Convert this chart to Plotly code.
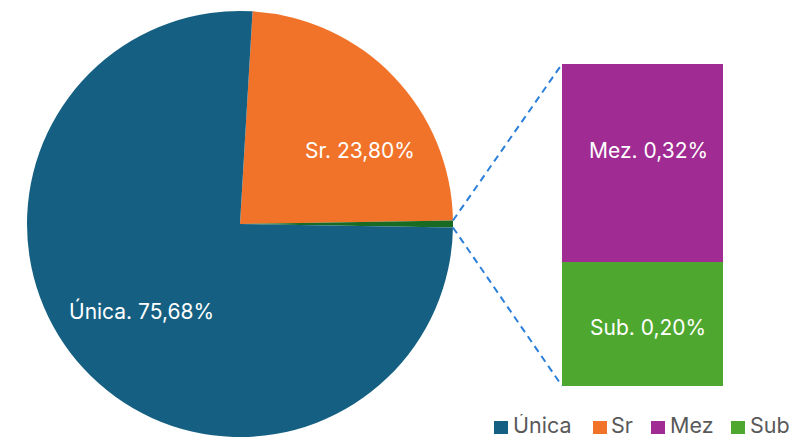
import math
import plotly.graph_objects as go

W, H = 792, 437

pie_labels = ["Sr", "Otro", "Única"]
pie_values = [23.80, 0.52, 75.68]
pie_colors = ["#F1732A", "#196B24", "#156082"]

bar_labels = ["Sub", "Mez"]
bar_values = [0.20, 0.32]
bar_colors = ["#4EA72E", "#A02B93"]

legend_labels = ["Única", "Sr", "Mez", "Sub"]
legend_colors = ["#156082", "#F1732A", "#A02B93", "#4EA72E"]

def fmt(v):
    return f"{v:.2f}".replace(".", ",") + "%"

# geometry (pixels)
cx, cy, r = 240, 224, 213
bx0, bx1, by_top, by_bot = 562, 723, 64, 386
font = "Inter"
lab_size = 21

total = sum(pie_values)
other_deg = pie_values[1] / total * 360
rotation = 90 - other_deg / 2 - pie_values[0] / total * 360

fig = go.Figure()
fig.add_trace(go.Pie(
    labels=pie_labels, values=pie_values, sort=False, direction="clockwise",
    rotation=rotation, marker=dict(colors=pie_colors, line=dict(width=0)),
    textinfo="none", hoverinfo="label+percent", showlegend=False,
    domain=dict(x=[(cx - r) / W, (cx + r) / W], y=[(H - cy - r) / H, (H - cy + r) / H]),
))

for lab, val, col in zip(bar_labels, bar_values, bar_colors):
    fig.add_trace(go.Bar(
        x=["x"], y=[val], marker=dict(color=col, line=dict(width=0)),
        textposition="none", showlegend=False, name=lab,
    ))

def px(x, y):
    return x / W, 1 - y / H

annots = []
# data labels (positions in pixels)
label_pos = {"Única": (141, 311), "Sr": (360, 150), "Mez": (648, 150), "Sub": (648, 327)}
label_vals = {pie_labels[2]: pie_values[2], pie_labels[0]: pie_values[0],
              bar_labels[1]: bar_values[1], bar_labels[0]: bar_values[0]}
for lab, val in label_vals.items():
    x, y = px(*label_pos[lab])
    annots.append(dict(x=x, y=y, xref="paper", yref="paper", showarrow=False,
                       text=f"{lab}. {fmt(val)}", xanchor="center", yanchor="middle",
                       font=dict(color="white", size=lab_size, family=font)))

# manual legend
shapes = []
sq_x = [494, 593, 651, 731]
tx_x = [512, 610, 669, 749]
leg_y = 425
sq = 13
for lab, col, sx, tx in zip(legend_labels, legend_colors, sq_x, tx_x):
    x0, y0 = px(sx, 421)
    x1, y1 = px(sx + sq + 1, 434)
    shapes.append(dict(type="rect", xref="paper", yref="paper", x0=x0, y0=y0, x1=x1, y1=y1,
                       fillcolor=col, line=dict(width=0)))
    x, y = px(tx, leg_y)
    annots.append(dict(x=x, y=y, xref="paper", yref="paper", showarrow=False, text=lab,
                       xanchor="left", yanchor="middle", height=22, borderpad=0,
                       font=dict(color="#595959", size=21.5, family=font)))

# connector lines from 'other' slice edges to bar corners
def polar(angle_deg, frac):
    a = math.radians(angle_deg)
    return cx + frac * r * math.sin(a), cy - frac * r * math.cos(a)

p1 = polar(90 - other_deg / 2, 1.0)
p2 = polar(90 + other_deg / 2, 1.0)
for (ax, ay), (qx, qy) in [(p1, (bx0, by_top)), (p2, (bx0, by_bot))]:
    x0, y0 = px(ax, ay)
    x1, y1 = px(qx, qy)
    shapes.append(dict(type="line", xref="paper", yref="paper", x0=x0, y0=y0, x1=x1, y1=y1,
                       line=dict(color="#2B7FD9", width=2, dash="7px,5px")))

fig.update_layout(
    width=W, height=H, margin=dict(l=0, r=0, t=0, b=0, autoexpand=False),
    paper_bgcolor="white", plot_bgcolor="white",
    barmode="stack", bargap=0, showlegend=False,
    xaxis=dict(domain=[bx0 / W, bx1 / W], range=[-0.5, 0.5], visible=False, fixedrange=True),
    yaxis=dict(domain=[1 - by_bot / H, 1 - by_top / H], range=[0, sum(bar_values)],
               visible=False, fixedrange=True),
    annotations=annots, shapes=shapes,
)

fig.write_html("out.html", config={"displayModeBar": False},
               post_script="document.body.style.margin='0';document.body.style.overflow='hidden';")
